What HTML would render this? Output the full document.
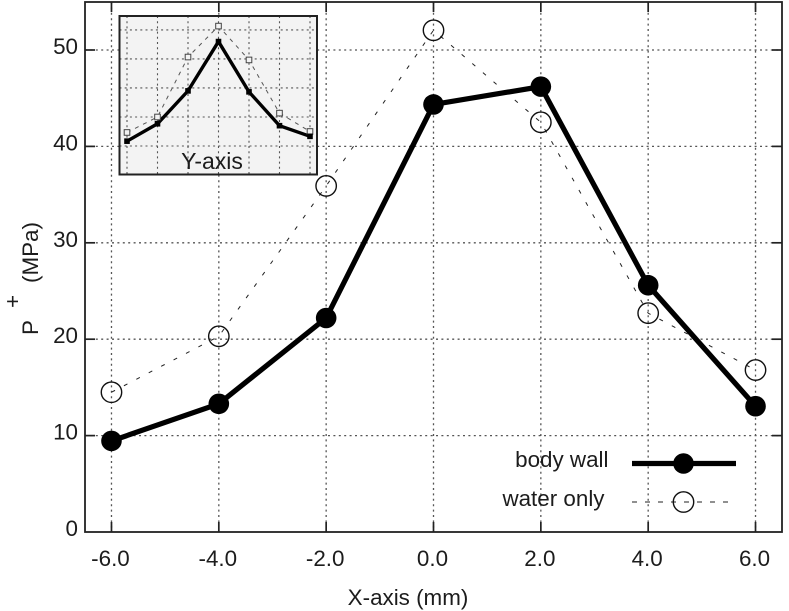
<!DOCTYPE html>
<html>
<head>
<meta charset="utf-8">
<style>
html,body{margin:0;padding:0;background:#fff;}
svg{display:block;}
text{font-family:"Liberation Sans",sans-serif;fill:#1c1c1c;}
</style>
</head>
<body>
<svg id="chart" width="789" height="611" viewBox="0 0 789 611" xmlns="http://www.w3.org/2000/svg"></svg>
<script>
const categories = [-6, -4, -2, 0, 2, 4, 6];
const bodyWall = [9.45, 13.3, 22.2, 44.35, 46.2, 25.6, 13.05];
const waterOnly = [14.5, 20.3, 35.9, 52.05, 42.5, 22.7, 16.8];
const xTickLabels = ['-6.0', '-4.0', '-2.0', '0.0', '2.0', '4.0', '6.0'];
const yTicks = [0, 10, 20, 30, 40, 50];
const insetCategories = [-3, -2, -1, 0, 1, 2, 3];
const insetBodyWall = [40.5, 42.3, 45.7, 50.8, 45.6, 42.1, 41];
const insetWaterOnly = [41.4, 43, 49.2, 52.4, 48.9, 43.4, 41.5];
const insetYTicks = [40, 43, 46, 49, 52];

const svg = document.getElementById('chart');
const NS = 'http://www.w3.org/2000/svg';
function add(parent, tag, attrs, name, text) {
  const el = document.createElementNS(NS, tag);
  for (const k in attrs) el.setAttribute(k, attrs[k]);
  
  
  if (text !== undefined) el.textContent = text;
  parent.appendChild(el);
  return el;
}
const plot = {l: 85, r: 782, t: 2, b: 532};
const x = v => 433.5 + v * 53.67;
const y = v => 532 - v * 9.64;
const ix = v => 218.5 + v * 30.5;
const iy = v => 146 - (v - 40) * 9.67;
const grid = '#555';
const fs = 22.4;

// main grid
categories.forEach(c => {
  add(svg, 'line', {x1: x(c), x2: x(c), y1: plot.t, y2: plot.b, stroke: grid, 'stroke-width': 1.3, 'stroke-dasharray': '2 3.4'}, 'x-gridline');
});
yTicks.slice(1).forEach(v => {
  add(svg, 'line', {x1: plot.l, x2: plot.r, y1: y(v), y2: y(v), stroke: grid, 'stroke-width': 1.3, 'stroke-dasharray': '2 3.4'}, 'y-gridline');
});

// ticks
categories.forEach((c, i) => {
  add(svg, 'line', {x1: x(c), x2: x(c), y1: plot.b, y2: plot.b - 10, stroke: '#222', 'stroke-width': 1.7}, 'x-tick-bottom');
  add(svg, 'line', {x1: x(c), x2: x(c), y1: plot.t, y2: plot.t + 10, stroke: '#222', 'stroke-width': 1.7}, 'x-tick-top');
  add(svg, 'text', {x: x(c) - 1, y: 566, 'text-anchor': 'middle', 'font-size': fs}, 'x-tick-label', xTickLabels[i]);
});
yTicks.forEach(v => {
  if (v > 0) {
    add(svg, 'line', {x1: plot.l, x2: plot.l + 10, y1: y(v), y2: y(v), stroke: '#222', 'stroke-width': 1.7}, 'y-tick-left');
    add(svg, 'line', {x1: plot.r, x2: plot.r - 10, y1: y(v), y2: y(v), stroke: '#222', 'stroke-width': 1.7}, 'y-tick-right');
  }
  add(svg, 'text', {x: 78, y: y(v) + 4, 'text-anchor': 'end', 'font-size': fs}, 'y-tick-label', String(v));
});

// inset
add(svg, 'rect', {x: 119.5, y: 16, width: 197.5, height: 158.5, fill: '#f3f3f3', stroke: 'none'}, 'inset-background');
insetCategories.forEach(c => {
  add(svg, 'line', {x1: ix(c), x2: ix(c), y1: 16, y2: 174.5, stroke: grid, 'stroke-width': 1.1, 'stroke-dasharray': '2 3.2'}, 'inset-x-gridline');
});
insetYTicks.forEach(v => {
  add(svg, 'line', {x1: 119.5, x2: 317, y1: iy(v), y2: iy(v), stroke: grid, 'stroke-width': 1.1, 'stroke-dasharray': '2 3.2'}, 'inset-y-gridline');
});
add(svg, 'polyline', {points: insetCategories.map((c, i) => ix(c) + ',' + iy(insetWaterOnly[i])).join(' '), fill: 'none', stroke: '#555', 'stroke-width': 1, 'stroke-dasharray': '4 5'}, 'inset-water-only-line');
add(svg, 'polyline', {points: insetCategories.map((c, i) => ix(c) + ',' + iy(insetBodyWall[i])).join(' '), fill: 'none', stroke: '#000', 'stroke-width': 3.4}, 'inset-body-wall-line');
insetCategories.forEach((c, i) => {
  add(svg, 'rect', {x: ix(c) - 2.8, y: iy(insetWaterOnly[i]) - 2.8, width: 5.6, height: 5.6, fill: '#f3f3f3', stroke: '#444', 'stroke-width': 1}, 'inset-water-only-point');
  add(svg, 'rect', {x: ix(c) - 2.8, y: iy(insetBodyWall[i]) - 2.8, width: 5.6, height: 5.6, fill: '#000'}, 'inset-body-wall-point');
});
add(svg, 'rect', {x: 119.5, y: 16, width: 197.5, height: 158.5, fill: 'none', stroke: '#222', 'stroke-width': 2}, 'inset-frame');
add(svg, 'text', {x: 212, y: 169, 'text-anchor': 'middle', 'font-size': 23}, 'inset-title', 'Y-axis');

// series
add(svg, 'polyline', {points: categories.map((c, i) => x(c) + ',' + y(waterOnly[i])).join(' '), fill: 'none', stroke: '#222', 'stroke-width': 1, 'stroke-dasharray': '4 10'}, 'water-only-line');
categories.forEach((c, i) => {
  add(svg, 'circle', {cx: x(c), cy: y(waterOnly[i]), r: 10.2, fill: 'none', stroke: '#111', 'stroke-width': 1.4}, 'water-only-point');
});
add(svg, 'polyline', {points: categories.map((c, i) => x(c) + ',' + y(bodyWall[i])).join(' '), fill: 'none', stroke: '#000', 'stroke-width': 5.2}, 'body-wall-line');
categories.forEach((c, i) => {
  add(svg, 'circle', {cx: x(c), cy: y(bodyWall[i]), r: 10.3, fill: '#000'}, 'body-wall-point');
});

// frame
add(svg, 'rect', {x: plot.l, y: plot.t, width: plot.r - plot.l, height: plot.b - plot.t, fill: 'none', stroke: '#222', 'stroke-width': 1.8}, 'plot-frame');

// legend
add(svg, 'text', {x: 608.5, y: 467, 'text-anchor': 'end', 'font-size': fs}, 'legend-label-body-wall', 'body wall');
add(svg, 'line', {x1: 632, x2: 736, y1: 463.5, y2: 463.5, stroke: '#000', 'stroke-width': 5.2}, 'legend-line-body-wall');
add(svg, 'circle', {cx: 683.5, cy: 463.5, r: 10.3, fill: '#000'}, 'legend-marker-body-wall');
add(svg, 'text', {x: 604.5, y: 506, 'text-anchor': 'end', 'font-size': fs}, 'legend-label-water-only', 'water only');
add(svg, 'line', {x1: 632, x2: 736, y1: 502, y2: 502, stroke: '#222', 'stroke-width': 1, 'stroke-dasharray': '5 8'}, 'legend-line-water-only');
add(svg, 'circle', {cx: 683.5, cy: 502, r: 10.2, fill: 'none', stroke: '#111', 'stroke-width': 1.4}, 'legend-marker-water-only');

// axis titles
add(svg, 'text', {x: 408, y: 605, 'text-anchor': 'middle', 'font-size': fs}, 'x-axis-title', 'X-axis (mm)');
add(svg, 'text', {x: 38, y: 335, transform: 'rotate(-90 38 335)', 'font-size': fs}, 'y-axis-title-p', 'P');
add(svg, 'text', {x: 20, y: 308, transform: 'rotate(-90 20 308)', 'font-size': fs}, 'y-axis-title-superscript', '+');
add(svg, 'text', {x: 38, y: 283, transform: 'rotate(-90 38 283)', 'font-size': fs}, 'y-axis-title-unit', '(MPa)');
</script>
</body>
</html>
